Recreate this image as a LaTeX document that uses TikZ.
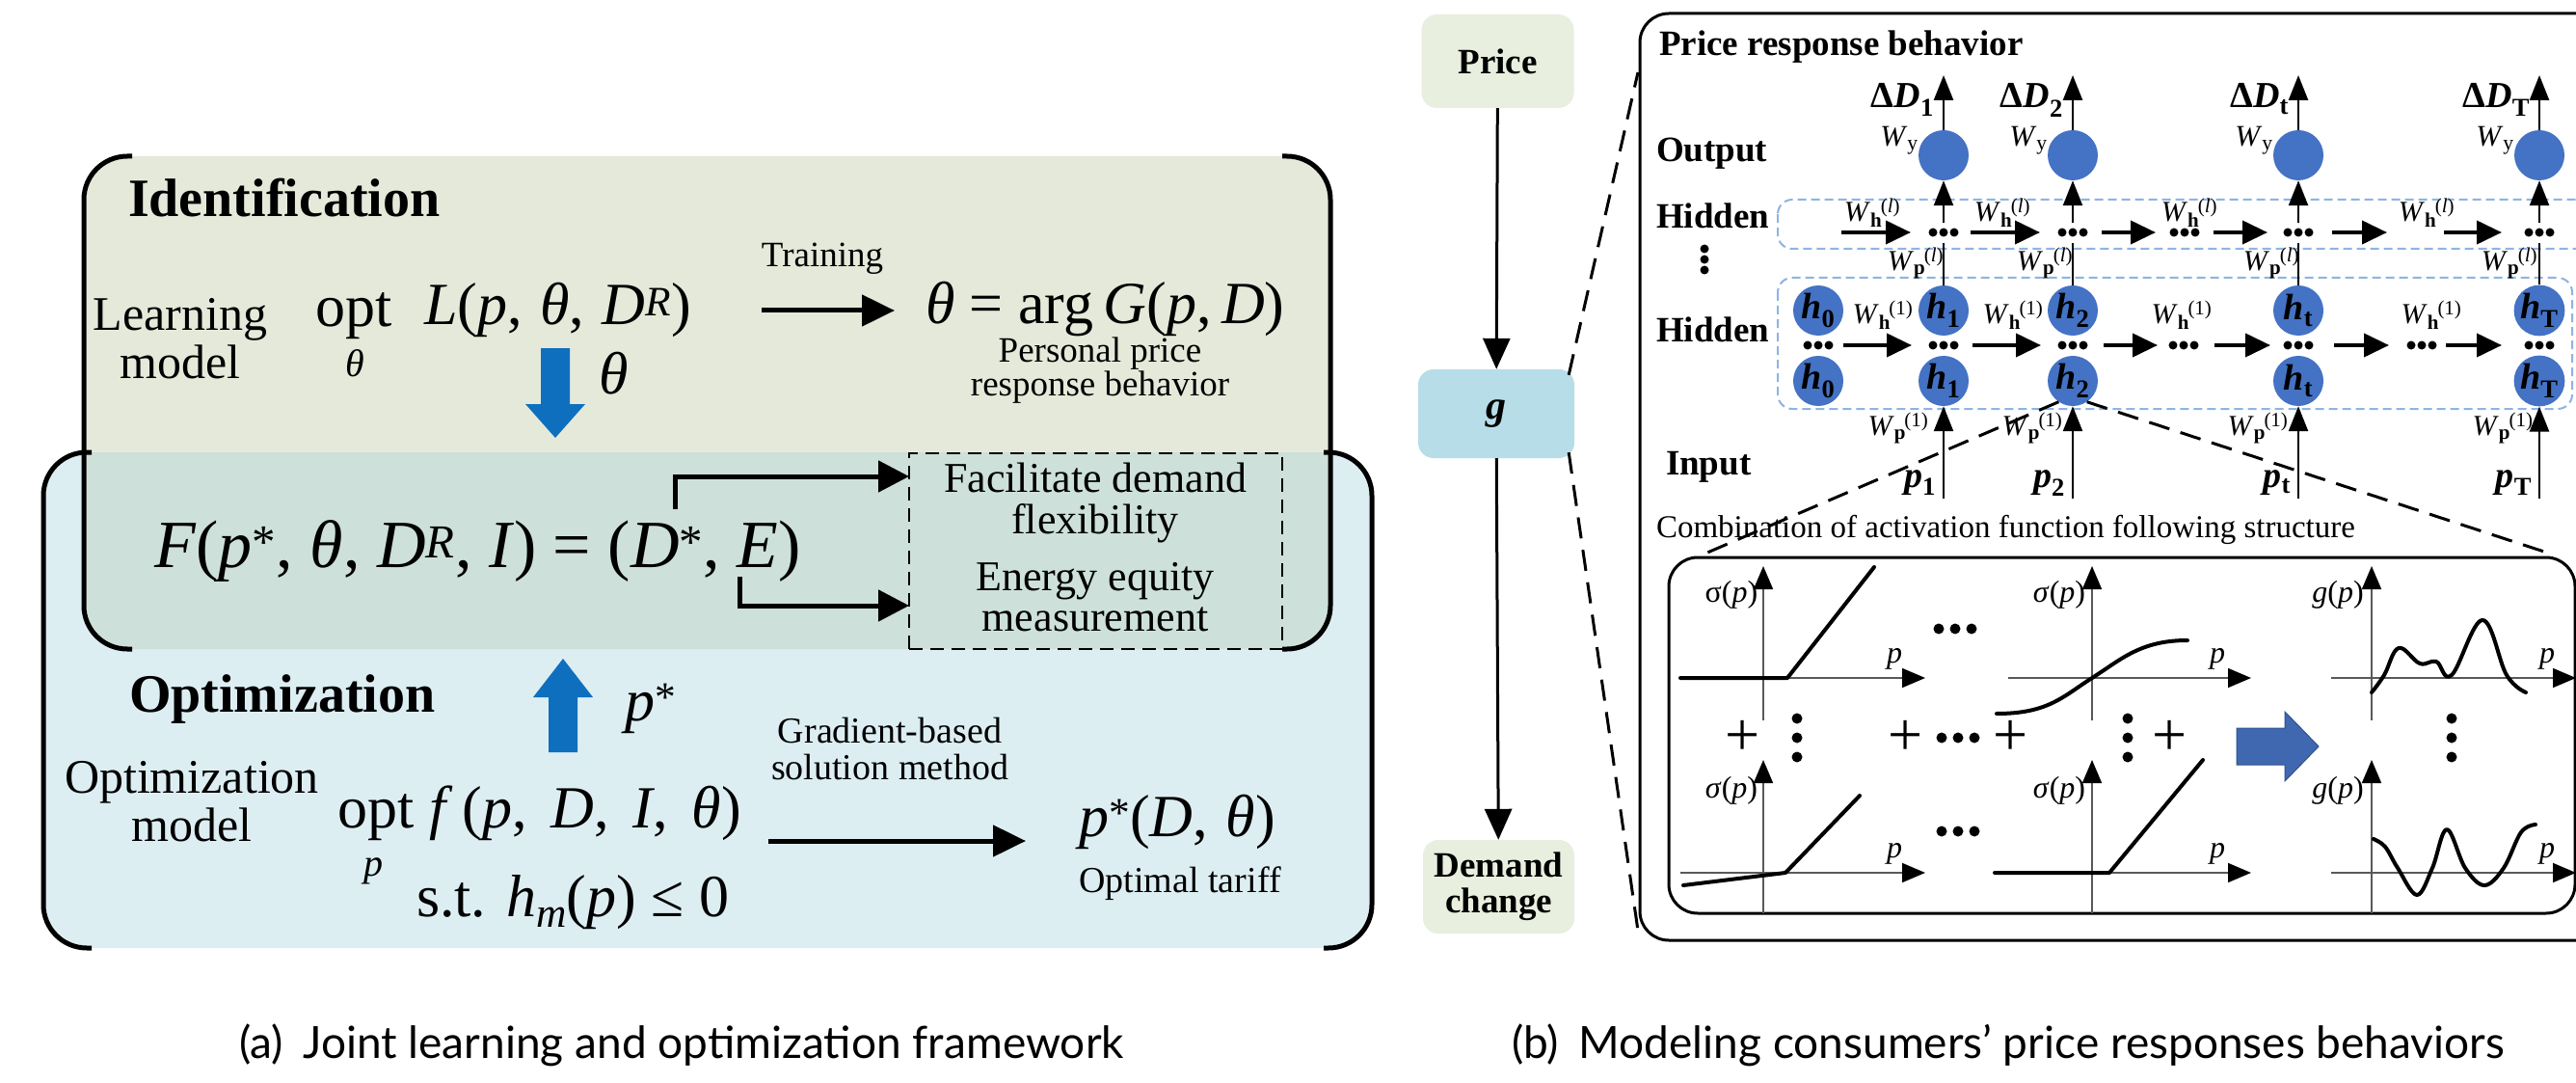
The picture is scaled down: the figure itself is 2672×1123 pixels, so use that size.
\documentclass[tikz,border=0pt]{standalone}
\usepackage{fontspec}
\setmainfont{Liberation Serif}
\newfontfamily\capfont{Lato}
\usetikzlibrary{arrows.meta}
\definecolor{idfill}{HTML}{E4E9DA}
\definecolor{opfill}{HTML}{DDEEF3}
\definecolor{ovfill}{HTML}{CDE0D9}
\definecolor{arrblue}{HTML}{0F6FBF}
\definecolor{nodeblue}{HTML}{4472C4}
\definecolor{dashblue}{HTML}{8EB4E3}
\definecolor{pricefill}{HTML}{E8EFDF}
\definecolor{gfill}{HTML}{B7DDE8}
\definecolor{bigarrow}{HTML}{4068B0}
\definecolor{bigarrowline}{HTML}{2F528F}
\newcommand\fs[2]{\fontsize{#1}{#2}\selectfont}
\newcommand\mi[1]{\textit{#1}}
\newcommand\sps[1]{\textsuperscript{#1}}
\newcommand\sbs[1]{\textsubscript{#1}}
\newcommand\Wlab[2]{\mi{W}\textsubscript{#1}\kern-0.05em\textsuperscript{#2}}
\newcommand\hl[1]{\fs{38}{40}\bfseries\itshape h\sbs{\upshape #1}}
\newcommand\mydotsh[4]{\fill ({#1-#3},#2) circle (#4pt) (#1,#2) circle (#4pt) ({#1+#3},#2) circle (#4pt);}
\newcommand\mydotsv[4]{\fill (#1,{#2-#3}) circle (#4pt) (#1,#2) circle (#4pt) (#1,{#2+#3}) circle (#4pt);}
\tikzset{
  bracket/.style={line width=5pt, rounded corners=45pt},
  lbl/.style={inner sep=0pt, outer sep=0pt},
  bigarr/.style={line width=5pt, -{Triangle[length=34pt,width=32pt]}},
  rnnarr/.style={line width=4pt, -{Triangle[length=26pt,width=24pt]}},
  varr/.style={line width=2.5pt, -{Triangle[length=26pt,width=20pt]}},
  flowarr/.style={line width=3pt, -{Triangle[length=32pt,width=28pt]}},
  axis/.style={line width=1.6pt, draw=black!65, -{Triangle[length=24pt,width=20pt,color=black]}},
  curve/.style={line width=4pt, line join=round, line cap=round},
  neuron/.style={circle, fill=nodeblue, minimum size=52pt, inner sep=0pt},
  dashbox/.style={draw=dashblue, dashed, line width=2pt, dash pattern=on 9pt off 5pt, rounded corners=15pt},
  zoomline/.style={line width=3pt, dash pattern=on 22pt off 12pt},
  flowbox/.style={rounded corners=16pt, minimum width=158pt, minimum height=97pt, inner sep=0pt, align=center},
  dbox/.style={draw, line width=2.5pt, dash pattern=on 14pt off 8pt, minimum width=387pt, minimum height=203pt, inner sep=0pt},
}
\begin{document}
\begin{tikzpicture}[x=1pt,y=-1pt]
\useasboundingbox (0,0) rectangle (2672,1123);
\fill[white] (0,0) rectangle (2672,1123);

% ================= LEFT PANEL =================
\fill[opfill, rounded corners=45pt] (45,469) rectangle (1423,983);
\fill[idfill, rounded corners=45pt] (87,162) rectangle (1380,673);
\begin{scope}
  \clip[rounded corners=45pt] (45,469) rectangle (1423,983);
  \fill[ovfill, rounded corners=45pt] (87,162) rectangle (1380,673);
\end{scope}
\draw[bracket] (137,162) -- (87,162) -- (87,673) -- (137,673);
\draw[bracket] (1330,162) -- (1380,162) -- (1380,673) -- (1330,673);
\draw[bracket] (95,469) -- (45,469) -- (45,983) -- (95,983);
\draw[bracket] (1373,469) -- (1423,469) -- (1423,983) -- (1373,983);

% Identification part
\node[lbl, anchor=base west] (idt) at (133,225) {\fs{56}{60}\bfseries Identification};
\node[lbl, anchor=base, align=center, font=\fs{50}{50}] (lm) at (187,392) {Learning\\model};
\node[lbl, anchor=base west] (opt1) at (327,338) {\fs{62}{70}opt};
\node[lbl] (opt1s) at (368,377) {\fs{40}{44}\mi{θ}};
\node[lbl, anchor=base west] (Lexp) at (440,337) {\fs{62}{70}\mi{L}(\mi{p},\hspace{0.3em}\mi{θ},\hspace{0.3em}\mi{D}\sps{\mi{R}})};
\coordinate (tra) at (790,322);
\coordinate (trb) at (928,322);
\draw[bigarr] (tra) -- (trb);
\node[lbl, anchor=base] (trn) at (853,277) {\fs{37}{40}Training};
\node[lbl, anchor=base west] (Gexp) at (960,335) {\fs{62}{70}\mi{θ} = arg\,\mi{G}(\mi{p},\,\mi{D})};
\node[lbl, anchor=base, align=center, font=\fs{37}{32}] (ppr) at (1141,410) {Personal price\\response behavior};

% blue arrows
\fill[arrblue] (561,361) -- (591,361) -- (591,419) -- (607,419) -- (576,454) -- (545,419) -- (561,419) -- cycle;
\node[lbl] (thl) at (637,387) {\fs{62}{70}\mi{θ}};
\fill[arrblue] (569,780) -- (599,780) -- (599,723) -- (615,723) -- (584,683) -- (553,723) -- (569,723) -- cycle;
\node[lbl, anchor=base west] (psl) at (648,747) {\fs{62}{70}\mi{p}\sps{*}};

% F expression and results
\node[lbl, anchor=base west] (Fexp) at (160,588) {\fs{70}{76}\mi{F}(\mi{p}\sps{*},\hspace{0.25em}\mi{θ},\hspace{0.25em}\mi{D}\sps{\mi{R}},\hspace{0.25em}\mi{I}) = (\mi{D}\sps{*},\hspace{0.25em}\mi{E})};
\node[dbox] (res) at (1136.5,571.5) {};
\node[lbl, anchor=base, align=center, font=\fs{44}{43}] (fd) at (1136,553) {Facilitate demand\\flexibility};
\node[lbl, anchor=base, align=center, font=\fs{44}{42}] (ee) at (1136,654) {Energy equity\\measurement};
\coordinate (dtop) at (700,528);
\coordinate (fa) at (943,494);
\coordinate (ebot) at (767,598);
\coordinate (ea) at (943,628);
\draw[line width=5pt, -{Triangle[length=32pt,width=32pt]}] (dtop) |- (fa);
\draw[line width=5pt, -{Triangle[length=32pt,width=32pt]}] (ebot) |- (ea);

% Optimization part
\node[lbl, anchor=base west] (opt) at (134,738) {\fs{56}{60}\bfseries Optimization};
\node[lbl, anchor=base, align=center, font=\fs{50}{50}] (om) at (199,872) {Optimization\\model};
\node[lbl, anchor=base west] (opt2) at (350,858) {\fs{62}{70}opt};
\node[lbl] (opt2s) at (387,903) {\fs{40}{44}\mi{p}};
\node[lbl, anchor=base west] (fexp) at (445,858) {\fs{62}{70}\mi{f}\,(\mi{p},\hspace{0.4em}\mi{D},\hspace{0.4em}\mi{I},\hspace{0.4em}\mi{θ})};
\node[lbl, anchor=base west] (stexp) at (432,950) {\fs{62}{70}s.t. \mi{h}\sbs{\mi{m}}(\mi{p}) ≤ 0};
\node[lbl, anchor=base, align=center, font=\fs{38}{38}] (gb) at (923,808) {Gradient-based\\solution method};
\coordinate (ga) at (797,872);
\coordinate (gbb) at (1064,872);
\draw[bigarr] (ga) -- (gbb);
\node[lbl, anchor=base west] (pexp) at (1119,867) {\fs{62}{70}\mi{p}\sps{*}(\mi{D},\hspace{0.3em}\mi{θ})};
\node[lbl, anchor=base] (otar) at (1224,925) {\fs{38}{42}Optimal tariff};

% ================= RIGHT PANEL =================
\node[flowbox, fill=pricefill, font=\fs{37}{40}\bfseries] (price) at (1553.5,63.5) {Price};
\node[flowbox, fill=gfill, minimum width=162pt, minimum height=92pt, font=\fs{42}{44}\bfseries\itshape] (g) at (1552,429) {g};
\node[flowbox, fill=pricefill, minimum width=157pt, font=\fs{37}{37}\bfseries] (dc) at (1554.5,919.5) {Demand\\change};
\draw[flowarr] (price) -- (g);
\draw[flowarr] (g) -- (dc);

\node[draw, line width=3pt, rounded corners=30pt, minimum width=1019pt, minimum height=961pt, inner sep=0pt] (prb) at (2210.5,494.5) {};
\coordinate (zt) at (1699,75);
\coordinate (zb) at (1699,965);
\draw[zoomline] ([xshift=-6pt,yshift=-6pt]g.north east) -- (zt);
\draw[zoomline] ([xshift=-6pt,yshift=6pt]g.south east) -- (zb);

\node[lbl, anchor=base west] (prbt) at (1721,58) {\fs{37}{40}\bfseries Price response behavior};
\node[lbl, anchor=base west] (outl) at (1718,168) {\fs{37}{40}\bfseries Output};
\node[lbl, anchor=base west] (hidl1) at (1718,237) {\fs{37}{40}\bfseries Hidden};
\node[lbl, anchor=base west] (hidl2) at (1718,355) {\fs{37}{40}\bfseries Hidden};
\node[lbl, anchor=base west] (inl) at (1728,492) {\fs{37}{40}\bfseries Input};
\mydotsv{1768}{269}{11}{4.5}

\draw[dashbox] (1844,207) rectangle (2700,258);
\draw[dashbox] (1844,288) rectangle (2668,424);

\node[neuron] (hu0) at (1886,322) {\hl{0}};
\node[neuron] (hb0) at (1886,395) {\hl{0}};
\foreach \n/\c in {1/2016,2/2150,t/2384,T/2634}{
  \node[neuron] (o\n) at (\c,161) {};
  \node[neuron] (hu\n) at (\c,322) {\hl{\n}};
  \node[neuron] (hb\n) at (\c,395) {\hl{\n}};
  \coordinate (vl\n) at (\c,252);
  \coordinate (vu\n) at (\c,231);
  \coordinate (dt\n) at (\c,78);
  \coordinate (pin\n) at (\c,517);
  \draw[line width=2.5pt] (hu\n) -- (vl\n);
  \draw[varr] (vu\n) -- (o\n);
  \draw[varr] (o\n) -- (dt\n);
  \draw[varr] (pin\n) -- (hb\n);
  \node[lbl, anchor=base east] at ({\c-10},112) {\fs{38}{40}\bfseries Δ\textit{D}\sbs{\n}};
  \node[lbl] at ({\c-46},146) {\fs{31}{32}\mi{W}\sbs{y}};
  \node[lbl, anchor=base east] at ({\c-8},505) {\fs{38}{40}\bfseries\itshape p\sbs{\upshape\n}};
}
\foreach \x in {2016,2150,2266,2384,2634}{\mydotsh{\x}{241}{11}{4.5}}
\foreach \x in {1886,2016,2150,2265,2384,2512,2634}{\mydotsh{\x}{358}{11}{4.5}}
\foreach \i/\a/\b in {1/1910/1982,2/2044/2116,3/2180/2236,4/2296/2352,5/2419/2476,6/2535/2595}{
  \coordinate (uas\i) at (\a,241);
  \coordinate (uae\i) at (\b,241);
  \draw[rnnarr] (uas\i) -- (uae\i);
}
\foreach \i/\a/\b in {1/1912/1983,2/2046/2117,3/2182/2238,4/2297/2355,5/2421/2478,6/2537/2595}{
  \coordinate (las\i) at (\a,358);
  \coordinate (lae\i) at (\b,358);
  \draw[rnnarr] (las\i) -- (lae\i);
}
\foreach \x in {1942,2077,2271,2517}{\node[lbl] at (\x,221) {\fs{30}{32}\Wlab{\textbf{h}}{(\mi{l})}};}
\foreach \x in {1987,2121,2356,2603}{\node[lbl] at (\x,273) {\fs{30}{32}\Wlab{\textbf{p}}{(\mi{l})}};}
\foreach \x in {1953,2088,2263,2522}{\node[lbl] at (\x,327) {\fs{30}{32}\Wlab{\textbf{h}}{(1)}};}
\foreach \x in {1969,2108,2342,2596}{\node[lbl] at (\x,444) {\fs{30}{32}\Wlab{\textbf{p}}{(1)}};}

\coordinate (cl) at (1771,573);
\coordinate (cr) at (2648,575);
\draw[zoomline] (hb2.236) -- (cl);
\draw[zoomline] (hb2.304) -- (cr);

\node[lbl, anchor=base west] (comb) at (1718,557) {\fs{33}{36}Combination of activation function following structure};
\node[draw, line width=3pt, rounded corners=30pt, minimum width=940pt, minimum height=369pt, inner sep=0pt] (actbox) at (2201,762.5) {};

% ---- plots ----
\foreach \yx/\ya/\yb/\xa/\xb/\xy in {1829/747/587/1743/1997/703, 2170/747/587/2083/2335/703, 2460/747/587/2418/2672/703,
  1829/947/788/1743/1997/905, 2170/947/788/2069/2335/905, 2460/947/788/2418/2672/905}{
  \draw[axis] (\yx,\ya) -- (\yx,\yb);
  \draw[axis] (\xa,\xy) -- (\xb,\xy);
}
\draw[curve] (1743,703) -- (1854,703) -- (1944,588);
\draw[curve] (2071,740) .. controls (2125,740) and (2140,722) .. (2170,703) .. controls (2200,684) and (2220,664) .. (2269,664);
\draw[curve] plot[smooth, tension=0.65] coordinates {(2460,718) (2473,700) (2488,672) (2510,688) (2527,686) (2543,700) (2575,643) (2600,700) (2620,718)};
\draw[curve] (1746,918) -- (1852,905) -- (1929,825);
\draw[curve] (2069,905) -- (2188,905) -- (2285,788);
\draw[curve] plot[smooth, tension=0.6] coordinates {(2462,870) (2474,878) (2487,900) (2507,928) (2523,900) (2538,860) (2557,900) (2577,918) (2597,900) (2615,863) (2630,855)};
\node[lbl] at (1796,617) {\fs{32}{34}σ(\mi{p})};
\node[lbl] at (2136,617) {\fs{32}{34}\mi{σ}(\mi{p})};
\node[lbl] at (2425,617) {\fs{32}{34}\mi{g}(\mi{p})};
\node[lbl] at (1796,820) {\fs{32}{34}\mi{σ}(\mi{p})};
\node[lbl] at (2136,820) {\fs{32}{34}\mi{σ}(\mi{p})};
\node[lbl] at (2425,820) {\fs{32}{34}\mi{g}(\mi{p})};
\foreach \x in {1965,2300,2642}{
  \node[lbl] at (\x,683) {\fs{32}{34}\mi{p}};
  \node[lbl] at (\x,885) {\fs{32}{34}\mi{p}};
}
\foreach \x in {1808,1977,2086,2251}{\node[lbl] at (\x,765) {\fs{64}{64}+};}
\mydotsv{1864}{765}{20}{5.5}
\mydotsv{2207}{765}{20}{5.5}
\mydotsv{2543}{765}{20}{5.5}
\mydotsh{2031}{765}{17}{5.5}
\mydotsh{2028}{652}{17}{5.5}
\mydotsh{2031}{862}{17}{5.5}
\filldraw[fill=bigarrow, draw=bigarrowline, line width=1pt] (2320,755) -- (2370,755) -- (2370,738) -- (2405,774) -- (2370,810) -- (2370,793) -- (2320,793) -- cycle;

% ================= CAPTIONS =================
\node[lbl, anchor=base] (capa) at (707,1097) {\capfont\fs{46}{48}(a)\hspace{0.45em}Joint learning and optimization framework};
\node[lbl, anchor=base] (capb) at (2083,1097) {\capfont\fs{46}{48}(b)\hspace{0.45em}Modeling consumers’ price responses behaviors};
\end{tikzpicture}
\end{document}
